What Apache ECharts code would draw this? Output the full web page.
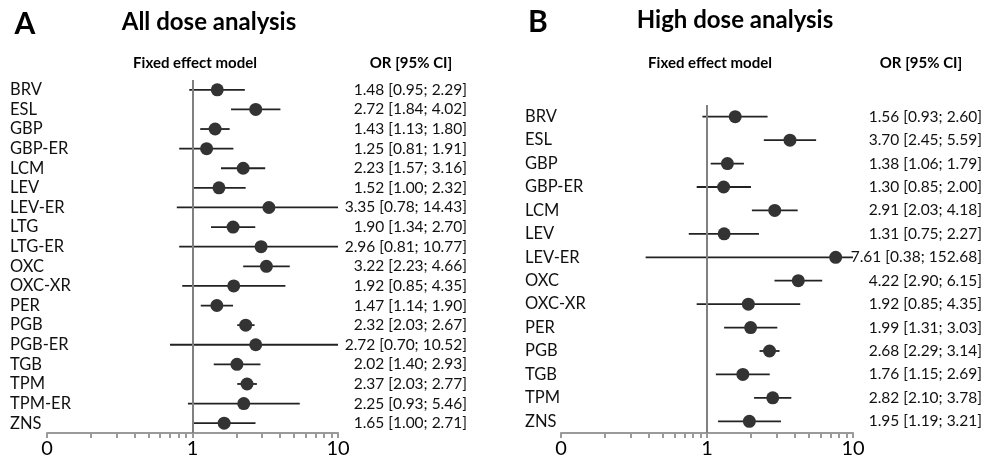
<!DOCTYPE html>
<html>
<head>
<meta charset="utf-8">
<script src="https://cdn.jsdelivr.net/npm/echarts@6/dist/echarts.min.js"></script>
<style>
  html, body { margin: 0; padding: 0; background: #fff; }
  #main { width: 985px; height: 459px; }
</style>
</head>
<body>
<div id="main"></div>
<script>
// all dose analysis
var drugsA = ['BRV', 'ESL', 'GBP', 'GBP-ER', 'LCM', 'LEV', 'LEV-ER', 'LTG', 'LTG-ER',
    'OXC', 'OXC-XR', 'PER', 'PGB', 'PGB-ER', 'TGB', 'TPM', 'TPM-ER', 'ZNS'];
var orA = [1.48, 2.72, 1.43, 1.25, 2.23, 1.52, 3.35, 1.90, 2.96, 3.22, 1.92, 1.47, 2.32, 2.72, 2.02, 2.37, 2.25, 1.65];
var loA = [0.95, 1.84, 1.13, 0.81, 1.57, 1.00, 0.78, 1.34, 0.81, 2.23, 0.85, 1.14, 2.03, 0.70, 1.40, 2.03, 0.93, 1.00];
var hiA = [2.29, 4.02, 1.80, 1.91, 3.16, 2.32, 14.43, 2.70, 10.77, 4.66, 4.35, 1.90, 2.67, 10.52, 2.93, 2.77, 5.46, 2.71];

// high dose analysis
var drugsB = ['BRV', 'ESL', 'GBP', 'GBP-ER', 'LCM', 'LEV', 'LEV-ER', 'OXC', 'OXC-XR',
    'PER', 'PGB', 'TGB', 'TPM', 'ZNS'];
var orB = [1.56, 3.70, 1.38, 1.30, 2.91, 1.31, 7.61, 4.22, 1.92, 1.99, 2.68, 1.76, 2.82, 1.95];
var loB = [0.93, 2.45, 1.06, 0.85, 2.03, 0.75, 0.38, 2.90, 0.85, 1.31, 2.29, 1.15, 2.10, 1.19];
var hiB = [2.60, 5.59, 1.79, 2.00, 4.18, 2.27, 152.68, 6.15, 4.35, 3.03, 3.14, 2.69, 3.78, 3.21];

// axis ticks
var tickValues = [0.1, 0.2, 0.3, 0.4, 0.5, 0.6, 0.7, 0.8, 0.9, 1, 2, 3, 4, 5, 6, 7, 8, 9, 10];
var labelValues = [0.1, 1, 10];

var FONT = 'Lato';

function ciText(or, lo, hi) {
    return or.map(function (v, i) {
        return v.toFixed(2) + ' [' + lo[i].toFixed(2) + '; ' + hi[i].toFixed(2) + ']';
    });
}

function xAxisFor(gridIndex) {
    return {
        type: 'log',
        gridIndex: gridIndex,
        logBase: 10,
        min: 0.1,
        max: 10,
        splitLine: { show: false },
        axisLine: { show: true, lineStyle: { color: '#9a9a9a', width: 2 } },
        axisTick: { show: true, length: 5, inside: false, customValues: tickValues,
            lineStyle: { color: '#9a9a9a', width: 2 } },
        axisLabel: {
            customValues: labelValues,
            color: '#000', fontSize: 20, fontFamily: FONT, margin: 6,
            formatter: function (v) { return v < 0.5 ? '0' : String(Math.round(v)); }
        }
    };
}

function yAxesFor(gridIndex, names, labels, nameMargin) {
    return [{
        type: 'category',
        gridIndex: gridIndex,
        data: names,
        inverse: true,
        position: 'left',
        axisLine: { show: false },
        axisTick: { show: false },
        axisLabel: { interval: 0, align: 'left', margin: nameMargin, color: '#111', fontSize: 16.5, fontFamily: FONT }
    }, {
        type: 'category',
        gridIndex: gridIndex,
        data: labels,
        inverse: true,
        position: 'right',
        axisLine: { show: false },
        axisTick: { show: false },
        axisLabel: { interval: 0, align: 'right', margin: 129, color: '#111', fontSize: 15.5, fontFamily: FONT }
    }];
}

function ciSeries(idx, lo, hi) {
    return {
        type: 'custom',
        xAxisIndex: idx,
        yAxisIndex: idx * 2,
        silent: true,
        z: 2,
        data: lo.map(function (v, i) { return [v, hi[i], i]; }),
        encode: { x: [0, 1], y: 2 },
        renderItem: function (params, api) {
            var a = api.coord([api.value(0), api.value(2)]);
            var b = api.coord([api.value(1), api.value(2)]);
            var cs = params.coordSys;
            var x1 = Math.max(a[0], cs.x), x2 = Math.min(b[0], cs.x + cs.width);
            return {
                type: 'line',
                shape: { x1: x1, y1: a[1], x2: x2, y2: a[1] },
                style: { stroke: '#222', lineWidth: 1.8 }
            };
        }
    };
}

function pointSeries(idx, or) {
    return {
        type: 'scatter',
        xAxisIndex: idx,
        yAxisIndex: idx * 2,
        silent: true,
        z: 3,
        symbolSize: 13,
        itemStyle: { color: '#333', opacity: 1 },
        data: or.map(function (v, i) { return [v, i]; }),
        markLine: {
            silent: true,
            symbol: 'none',
            label: { show: false },
            lineStyle: { color: '#808080', width: 2, type: 'solid' },
            data: [{ xAxis: 1 }]
        }
    };
}

function headText(x, y, text, size) {
    return {
        type: 'text',
        x: x,
        y: y,
        style: {
            text: text, fill: '#000', font: 'bold ' + size + 'px ' + FONT,
            textAlign: 'center', textVerticalAlign: 'middle'
        }
    };
}

var myChart = echarts.init(document.getElementById('main'));

var option = {
    animation: false,
    backgroundColor: '#fff',
    grid: [
        { left: 47, top: 80, width: 291, height: 357 },
        { left: 561, top: 105, width: 292, height: 332 }
    ],
    xAxis: [xAxisFor(0), xAxisFor(1)],
    yAxis: yAxesFor(0, drugsA, ciText(orA, loA, hiA), 37)
        .concat(yAxesFor(1, drugsB, ciText(orB, loB, hiB), 36)),
    series: [
        ciSeries(0, loA, hiA),
        pointSeries(0, orA),
        ciSeries(1, loB, hiB),
        pointSeries(1, orB)
    ],
    graphic: [
        headText(25, 24, 'A', 30),
        headText(209, 22, 'All dose analysis', 24),
        headText(195, 63, 'Fixed effect model', 15),
        headText(411, 63, 'OR [95% CI]', 15),
        headText(538, 22, 'B', 30),
        headText(735, 20, 'High dose analysis', 24),
        headText(710, 63, 'Fixed effect model', 15),
        headText(921, 63, 'OR [95% CI]', 15)
    ]
};

myChart.setOption(option);
</script>
</body>
</html>
